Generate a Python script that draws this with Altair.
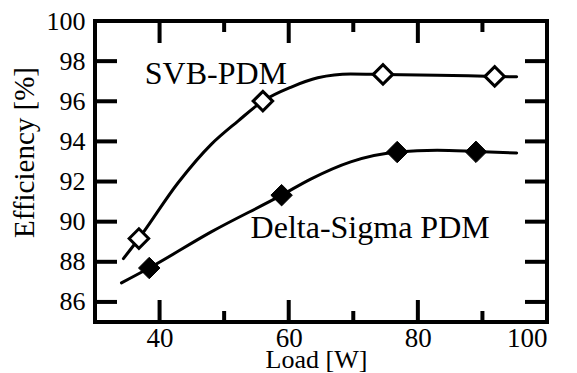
import altair as alt
import pandas as pd

# measured data points
svb_x = [36.8, 56.0, 74.6, 91.9]
svb_y = [89.16, 96.01, 97.34, 97.24]
ds_x = [38.4, 58.9, 76.8, 89.0]
ds_y = [87.69, 91.32, 93.47, 93.48]

# fitted curves
svb_curve_x = [34.4, 36.8, 42.9, 48.0, 52.1, 56.0, 60.4, 64.5, 69.6, 74.6, 83.0, 91.9, 95.3]
svb_curve_y = [88.16, 89.16, 91.95, 93.85, 95.0, 96.01, 96.71, 97.17, 97.36, 97.34, 97.30, 97.24, 97.22]
ds_curve_x = [34.1, 38.4, 48.0, 58.9, 63.4, 69.6, 76.8, 83.0, 89.0, 95.3]
ds_curve_y = [86.95, 87.69, 89.49, 91.32, 92.12, 92.98, 93.47, 93.56, 93.50, 93.42]

# annotation labels
label_text = ["SVB-PDM", "Delta-Sigma PDM"]
label_x = [37.7, 54.1]
label_y = [96.88, 89.17]

# axis ticks
y_ticks = [86, 88, 90, 92, 94, 96, 98, 100]
x_ticks = [40, 60, 80, 100]
y_inner = [86, 88, 90, 92, 94, 96, 98]
x_major = [40, 60, 80]
x_minor = [50, 70, 90]

W, H = 452, 301
FONT = "Liberation Serif"
MAJ, MIN = 22, 11

xs = alt.Scale(domain=[30, 100], nice=False, zero=False)
ys = alt.Scale(domain=[85, 100], nice=False, zero=False)

x_axis = alt.Axis(values=x_ticks, title="Load [W]", grid=False, ticks=False,
                  domain=False, labelFont=FONT, labelFontSize=27,
                  labelColor="#000000", labelPadding=3, titleFont=FONT,
                  titleFontSize=26, titleFontWeight="normal", titleColor="#000000",
                  titleX=221, titleY=45, titleAlign="center",
                  titleBaseline="alphabetic")
y_axis = alt.Axis(values=y_ticks, title="Efficiency [%]", grid=False, ticks=False,
                  domain=False, labelFont=FONT, labelFontSize=26,
                  labelColor="#000000", labelPadding=10, titleFont=FONT,
                  titleFontSize=29, titleFontWeight="normal", titleColor="#000000",
                  titleX=-71, titleY=131, titleAngle=270, titleAlign="center",
                  titleBaseline="middle", titleLimit=400)


def X(field):
    return alt.X(field, scale=xs, axis=x_axis, title="Load [W]")


def Y(field):
    return alt.Y(field, scale=ys, axis=y_axis, title="Efficiency [%]")


curves = pd.DataFrame(
    {"x": svb_curve_x + ds_curve_x,
     "y": svb_curve_y + ds_curve_y,
     "s": ["SVB"] * len(svb_curve_x) + ["DS"] * len(ds_curve_x)}
)
pts_svb = pd.DataFrame({"x": svb_x, "y": svb_y})
pts_ds = pd.DataFrame({"x": ds_x, "y": ds_y})
labels = pd.DataFrame({"t": label_text, "x": label_x, "y": label_y})
yt = pd.DataFrame({"v": y_inner})
xmaj = pd.DataFrame({"v": x_major})
xmin = pd.DataFrame({"v": x_minor})

line = alt.Chart(curves).mark_line(
    interpolate="monotone", color="black", strokeWidth=3, strokeCap="round"
).encode(x=X("x:Q"), y=Y("y:Q"), detail="s:N")

p_svb = alt.Chart(pts_svb).mark_point(
    shape="diamond", size=380, filled=True, fill="white", stroke="black",
    strokeWidth=3, opacity=1
).encode(x=X("x:Q"), y=Y("y:Q"))

p_ds = alt.Chart(pts_ds).mark_point(
    shape="diamond", size=460, filled=True, fill="black", stroke="black",
    strokeWidth=1, opacity=1
).encode(x=X("x:Q"), y=Y("y:Q"))

txt = alt.Chart(labels).mark_text(
    font=FONT, fontSize=32, align="left", baseline="alphabetic", color="black"
).encode(x=X("x:Q"), y=Y("y:Q"), text="t:N")

tick_style = dict(color="black", strokeWidth=4, strokeCap="butt")

left_t = alt.Chart(yt).mark_rule(**tick_style).encode(
    y=Y("v:Q"), x=alt.value(0), x2=alt.value(MAJ))
right_t = alt.Chart(yt).mark_rule(**tick_style).encode(
    y=Y("v:Q"), x=alt.value(W - MAJ), x2=alt.value(W))
bot_maj = alt.Chart(xmaj).mark_rule(**tick_style).encode(
    x=X("v:Q"), y=alt.value(H), y2=alt.value(H - MAJ))
bot_min = alt.Chart(xmin).mark_rule(**tick_style).encode(
    x=X("v:Q"), y=alt.value(H), y2=alt.value(H - MIN))
top_maj = alt.Chart(xmaj).mark_rule(**tick_style).encode(
    x=X("v:Q"), y=alt.value(0), y2=alt.value(MAJ))
top_min = alt.Chart(xmin).mark_rule(**tick_style).encode(
    x=X("v:Q"), y=alt.value(0), y2=alt.value(MIN))

chart = alt.layer(
    line, left_t, right_t, bot_maj, bot_min, top_maj, top_min, p_svb, p_ds, txt
).properties(
    width=W, height=H,
    autosize=alt.AutoSizeParams(type="none"),
    padding={"left": 87, "top": 13, "right": 22, "bottom": 51},
    background="white",
).configure_view(stroke="black", strokeWidth=4)

chart.save("out.html", embed_options={"renderer": "svg", "actions": False})
